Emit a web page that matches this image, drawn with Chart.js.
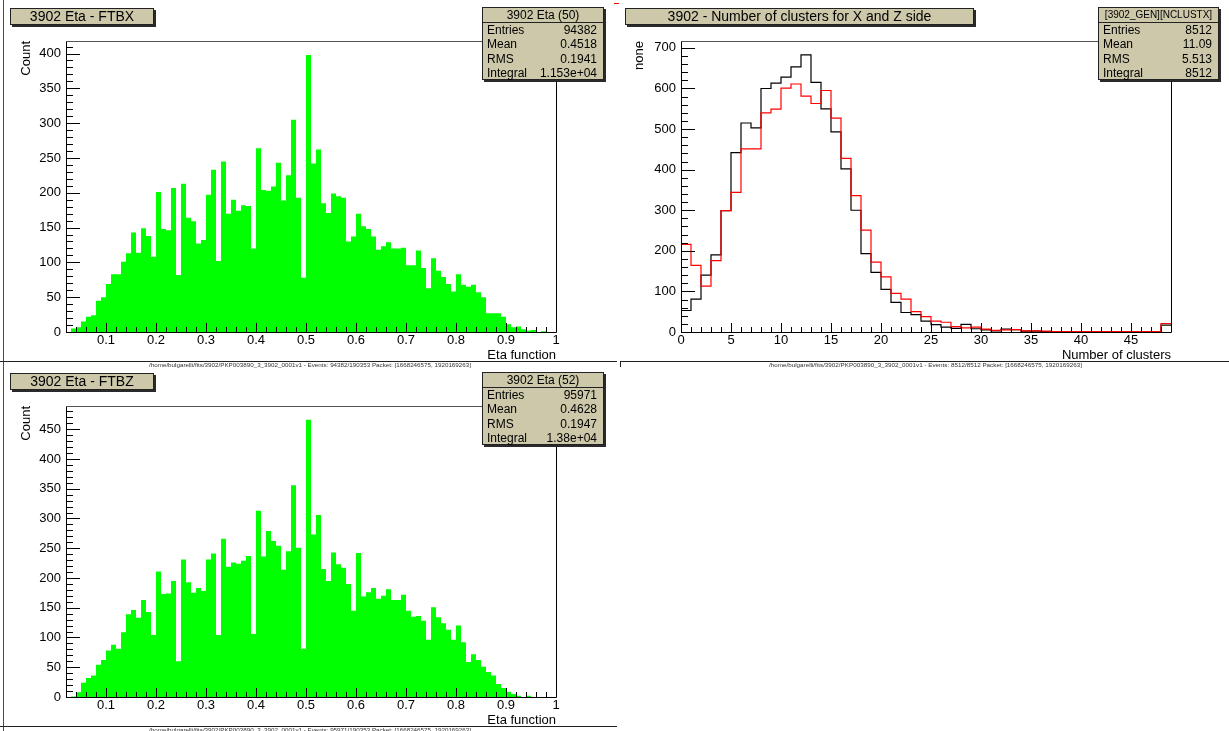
<!DOCTYPE html>
<html><head><meta charset="utf-8">
<script src="https://cdn.jsdelivr.net/npm/chart.js@4.4.0/dist/chart.umd.min.js"></script>
<style>
html,body{margin:0;padding:0;background:#fff;}
body{width:1229px;height:731px;position:relative;overflow:hidden;font-family:'Liberation Sans',Arial,sans-serif;}
canvas{position:absolute;}
.pave{position:absolute;background:#cdc8aa;border:1px solid #222;box-shadow:2px 2px 0 #2a2a2a;box-sizing:border-box;color:#000;z-index:5;}
.ttl{font-size:14px;text-align:center;line-height:15px;white-space:nowrap;}
.stats{font-size:12px;}
.stats .hd{height:14px;line-height:14px;text-align:center;border-bottom:1px solid #222;white-space:nowrap;}
.stats .row{height:14.3px;line-height:14.3px;display:flex;justify-content:space-between;padding:0 6px 0 4px;}
.hline{position:absolute;height:1px;background:#222;z-index:4;}
.vline{position:absolute;width:1px;z-index:4;}
.foot{position:absolute;font-size:6px;line-height:6px;color:#333;white-space:nowrap;z-index:4;transform-origin:0 0;}
</style>
</head>
<body>
<canvas id="c1" width="617" height="365" style="left:0;top:0"></canvas>
<canvas id="c2" width="609" height="365" style="left:620px;top:0"></canvas>
<canvas id="c3" width="617" height="365" style="left:0;top:365px"></canvas>

<div class="vline" style="left:3px;top:0;height:731px;background:#f00"></div>
<div class="hline" style="left:614px;top:3px;width:5px;background:#f00"></div>
<div class="hline" style="left:0;top:361px;width:617px"></div>
<div class="hline" style="left:620px;top:361px;width:609px"></div>
<div class="vline" style="left:620px;top:361px;height:6px;background:#222"></div>
<div class="hline" style="left:0;top:726px;width:617px"></div>
<div id="boxes"></div>
<script>
// ================= DATA =================
// Eta histograms: 98 bins of width 0.01 starting at 0.02
const etaFirstEdge = 0.02;
const etaBinWidth = 0.01;
const etaCountsFTBX = [0,5,7,15,22,24,45,50,69,83,
  83,101,113,143,114,149,138,108,201,148,
  146,207,82,213,164,159,127,132,197,233,
  102,245,170,190,174,182,181,120,264,204,
  203,209,243,189,225,305,193,78,398,242,
  262,185,171,199,195,193,130,137,170,152,
  148,137,118,123,129,120,120,121,96,96,
  117,92,63,106,88,79,69,58,83,68,
  65,68,57,50,27,27,27,22,11,7,
  8,4,2,3,0,1,0,0];
const etaCountsFTBZ = [0,1,8,24,32,36,54,62,78,88,
  81,109,139,146,133,163,143,104,211,173,
  174,195,60,231,193,175,183,178,231,241,
  104,266,219,226,224,229,237,106,313,236,
  279,262,254,214,245,356,251,81,466,273,
  306,215,195,243,223,217,190,145,242,169,
  176,183,165,170,181,163,163,172,145,135,
  136,128,96,151,134,124,113,96,120,92,
  59,72,62,51,42,36,22,15,9,5,
  2,0,2,0,0,0,0,0];
const etaTickValues = [0.1,0.2,0.3,0.4,0.5,0.6,0.7,0.8,0.9,1.0];
const etaTickLabels = ['0.1','0.2','0.3','0.4','0.5','0.6','0.7','0.8','0.9','1'];
const countTicksFTBX = [0,50,100,150,200,250,300,350,400];
const countTicksFTBZ = [0,50,100,150,200,250,300,350,400,450];
const countMaxFTBX = 418;
const countMaxFTBZ = 489;

// Number of clusters: 49 bins of width 1 starting at 0
const nclustFirstEdge = 0;
const nclustBinWidth = 1;
const nclustX = [53,81,140,190,299,442,515,503,600,613,
  628,653,683,615,550,493,402,300,193,147,
  105,73,48,43,27,18,12,9,19,8,
  5,3,7,6,2,2,1,1,1,1,
  1,1,1,1,1,1,1,1,17];
const nclustZ = [216,164,113,176,299,344,451,451,540,549,
  601,611,581,563,595,527,428,336,251,172,
  136,95,81,50,38,27,24,13,10,12,
  7,4,5,6,3,3,2,1,1,1,
  1,1,1,1,1,1,1,1,21];
const nclustTickValues = [0,5,10,15,20,25,30,35,40,45];
const nclustTickLabels = ['0','5','10','15','20','25','30','35','40','45'];
const nclustYTicks = [0,100,200,300,400,500,600,700];
const nclustMax = 717;

const statLabels = ['Entries','Mean','RMS','Integral'];
const statsFTBX = ['94382','0.4518','0.1941','1.153e+04'];
const statsFTBZ = ['95971','0.4628','0.1947','1.38e+04'];
const statsNclust = ['8512','11.09','5.513','8512'];

// ================= HELPERS =================
Chart.defaults.font.family = "'Liberation Sans', Arial, sans-serif";
Chart.defaults.font.size = 13;
Chart.defaults.color = '#000';

function stepPoints(first, width, counts) {
  const pts = counts.map((c, i) => ({x: first + width * i, y: c}));
  pts.push({x: first + width * counts.length, y: counts[counts.length - 1]});
  return pts;
}
function range(a, b, s) { const r = []; for (let v = a; v <= b + 1e-9; v += s) r.push(+v.toFixed(6)); return r; }

function axesPlugin(cfg) {
  return {
    id: 'rootAxes',
    afterDatasetsDraw(chart) {
      const {ctx, chartArea: a, scales: {x, y}} = chart;
      const L = Math.round(a.left), R = Math.round(a.right), T = Math.round(a.top), B = Math.round(a.bottom);
      ctx.save();
      ctx.lineWidth = 1;
      ctx.strokeStyle = '#000';
      ctx.beginPath();
      cfg.xMinor.forEach(v => { const p = Math.round(x.getPixelForValue(v)) + 0.5; ctx.moveTo(p, B); ctx.lineTo(p, B - cfg.xMinorLen); });
      cfg.xMajor.forEach(v => { const p = Math.round(x.getPixelForValue(v)) + 0.5; ctx.moveTo(p, B); ctx.lineTo(p, B - cfg.xMajorLen); });
      cfg.yMinor.forEach(v => { const p = Math.round(y.getPixelForValue(v)) + 0.5; ctx.moveTo(L, p); ctx.lineTo(L + cfg.yMinorLen, p); });
      cfg.yMajor.forEach(v => { const p = Math.round(y.getPixelForValue(v)) + 0.5; ctx.moveTo(L, p); ctx.lineTo(L + cfg.yMajorLen, p); });
      ctx.stroke();
      // frame
      ctx.beginPath();
      ctx.moveTo(L + 0.5, T); ctx.lineTo(L + 0.5, B + 0.5); ctx.lineTo(R + 0.5, B + 0.5); ctx.lineTo(R + 0.5, T);
      ctx.stroke();
      ctx.strokeStyle = '#555';
      ctx.beginPath(); ctx.moveTo(L, T + 0.5); ctx.lineTo(R + 1, T + 0.5); ctx.stroke();
      ctx.restore();
    }
  };
}

function makeChart(id, datasets, opt) {
  return new Chart(document.getElementById(id), {
    type: 'line',
    data: {datasets},
    options: {
      responsive: false, animation: false, devicePixelRatio: 1,
      layout: {padding: {left: 0, top: 41, right: opt.padRight, bottom: 0}},
      elements: {point: {radius: 0}},
      plugins: {legend: {display: false}, tooltip: {enabled: false}},
      scales: {
        x: {
          type: 'linear', min: opt.xMin, max: opt.xMax,
          afterFit: s => { s.height = 33; },
          afterBuildTicks: s => { s.ticks = opt.xTicks.map(v => ({value: v})); },
          grid: {display: false, drawTicks: false}, border: {display: false},
          ticks: {autoSkip: false, maxRotation: 0, padding: 1, callback: (v, i) => opt.xLabels[i]},
          title: {display: true, text: opt.xTitle, align: 'end', padding: {top: 0, bottom: 2}, font: {size: 13}}
        },
        y: {
          type: 'linear', min: 0, max: opt.yMax,
          afterFit: s => { s.width = opt.yWidth; },
          afterBuildTicks: s => { s.ticks = opt.yTicks.map(v => ({value: v})); },
          grid: {display: false, drawTicks: false}, border: {display: false},
          ticks: {autoSkip: false, padding: 5, callback: (v, i) => String(opt.yTicks[i])},
          title: {display: true, text: opt.yTitle, align: 'end', padding: {top: opt.yTitlePad, bottom: 0}, font: {size: 13}}
        }
      }
    },
    plugins: [axesPlugin(opt.axes)]
  });
}

function etaDataset(counts) {
  return [{data: stepPoints(etaFirstEdge, etaBinWidth, counts), stepped: true, fill: 'origin',
    backgroundColor: '#00ff00', borderColor: 'rgba(0,0,0,0)', borderWidth: 0}];
}
const etaAxes = (yMax) => ({
  xMajor: etaTickValues, xMinor: range(0.02, 1.0, 0.02), xMajorLen: 9, xMinorLen: 5,
  yMajor: range(0, yMax, 50), yMinor: range(0, yMax, 10), yMajorLen: 14, yMinorLen: 7
});

makeChart('c1', etaDataset(etaCountsFTBX), {
  padRight: 61, yWidth: 66, xMin: 0.02, xMax: 1.0, xTicks: etaTickValues, xLabels: etaTickLabels,
  yMax: countMaxFTBX, yTicks: countTicksFTBX, xTitle: 'Eta function', yTitle: 'Count', yTitlePad: 19,
  axes: etaAxes(countMaxFTBX)
});
makeChart('c3', etaDataset(etaCountsFTBZ), {
  padRight: 61, yWidth: 66, xMin: 0.02, xMax: 1.0, xTicks: etaTickValues, xLabels: etaTickLabels,
  yMax: countMaxFTBZ, yTicks: countTicksFTBZ, xTitle: 'Eta function', yTitle: 'Count', yTitlePad: 19,
  axes: etaAxes(countMaxFTBZ)
});
makeChart('c2', [
  {label: 'NCLUSTZ', data: stepPoints(nclustFirstEdge, nclustBinWidth, nclustZ), stepped: true, fill: false, borderColor: '#ff0000', borderWidth: 1.2},
  {label: 'NCLUSTX', data: stepPoints(nclustFirstEdge, nclustBinWidth, nclustX), stepped: true, fill: false, borderColor: '#000000', borderWidth: 1.2}
], {
  padRight: 58, yWidth: 61, xMin: 0, xMax: 49, xTicks: nclustTickValues, xLabels: nclustTickLabels,
  yMax: nclustMax, yTicks: nclustYTicks, xTitle: 'Number of clusters', yTitle: 'none', yTitlePad: 12,
  axes: {xMajor: nclustTickValues, xMinor: range(0, 49, 1), xMajorLen: 9, xMinorLen: 5,
         yMajor: nclustYTicks, yMinor: range(0, 717, 20), yMajorLen: 14, yMinorLen: 7}
});

// ================= PAVES =================
const boxes = document.getElementById('boxes');
function titleBox(text, left, top, width) {
  const d = document.createElement('div');
  d.className = 'pave ttl';
  d.style.cssText = `left:${left}px;top:${top}px;width:${width}px;height:17px;`;
  d.textContent = text;
  boxes.appendChild(d);
}
function statsBox(header, values, left, top, width, hdSize) {
  const d = document.createElement('div');
  d.className = 'pave stats';
  d.style.cssText = `left:${left}px;top:${top}px;width:${width}px;height:73px;`;
  const h = document.createElement('div');
  h.className = 'hd'; h.textContent = header;
  if (hdSize) h.style.fontSize = hdSize + 'px';
  d.appendChild(h);
  statLabels.forEach((lab, i) => {
    const r = document.createElement('div'); r.className = 'row';
    const a = document.createElement('span'); a.textContent = lab;
    const b = document.createElement('span'); b.textContent = values[i];
    r.appendChild(a); r.appendChild(b); d.appendChild(r);
  });
  boxes.appendChild(d);
}
function footer(text, left, top, width) {
  const d = document.createElement('div');
  d.className = 'foot';
  d.textContent = text;
  d.style.left = left + 'px'; d.style.top = top + 'px';
  boxes.appendChild(d);
  const w = d.getBoundingClientRect().width;
  if (w > 0) d.style.transform = `scaleX(${width / w})`;
}
titleBox('3902 Eta - FTBX', 10, 8, 144);
titleBox('3902 - Number of clusters for X and Z side', 625, 8, 349);
titleBox('3902 Eta - FTBZ', 10, 373, 144);
statsBox('3902 Eta (50)', statsFTBX, 482, 7, 122);
statsBox('[3902_GEN][NCLUSTX]', statsNclust, 1098, 7, 121, 10);
statsBox('3902 Eta (52)', statsFTBZ, 482, 372, 122);
footer('/home/bulgarelli/fits/3902/PKP003890_3_3902_0001v1 - Events: 94382/190353  Packet: [1668246575, 1920169263]', 149, 362, 322);
footer('/home/bulgarelli/fits/3902/PKP003890_3_3902_0001v1 - Events: 8512/8512  Packet: [1668246575, 1920169263]', 769, 362, 313);
footer('/home/bulgarelli/fits/3902/PKP003890_3_3902_0001v1 - Events: 95971/190353  Packet: [1668246575, 1920169263]', 149, 727, 322);
</script>
</body></html>
